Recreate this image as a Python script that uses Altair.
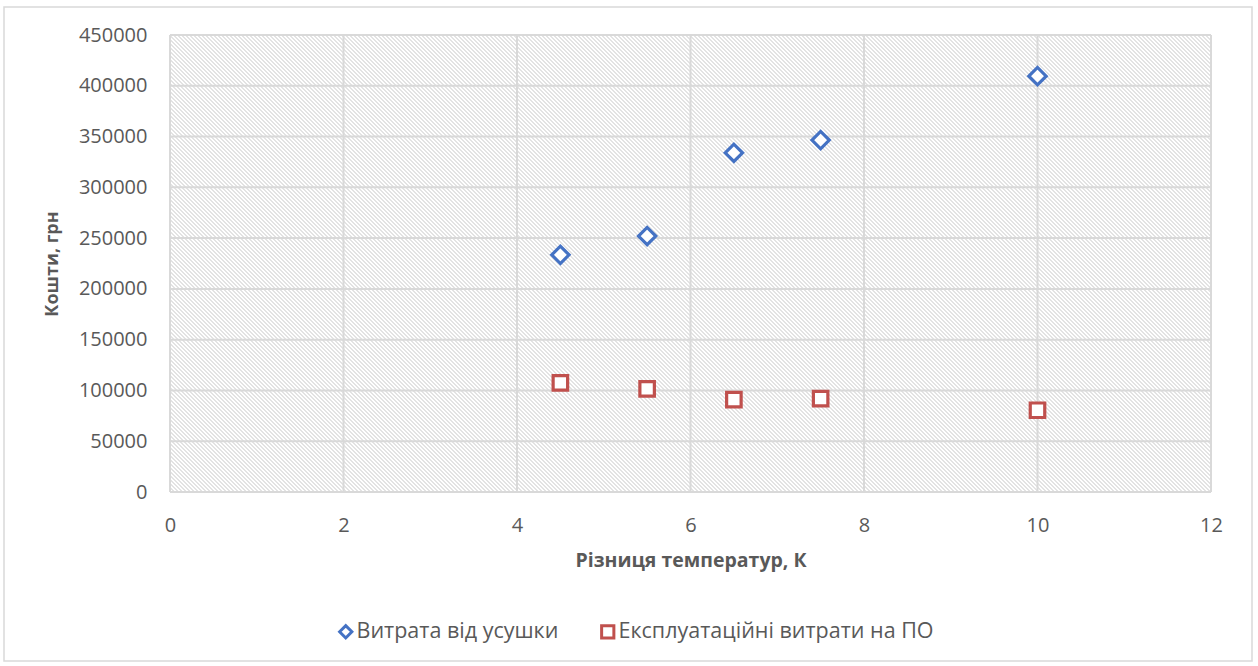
import altair as alt
import pandas as pd

# ---- data ----
x_vals = [4.5, 5.5, 6.5, 7.5, 10]
shrink_cost = [233500, 252000, 334000, 346500, 409500]   # Витрата від усушки
opex_cost = [107500, 101500, 91000, 92000, 80500]        # Експлуатаційні витрати на ПО
series_names = ["Витрата від усушки", "Експлуатаційні витрати на ПО"]
x_ticks = [0, 2, 4, 6, 8, 10, 12]
y_ticks = [0, 50000, 100000, 150000, 200000, 250000, 300000, 350000, 400000, 450000]

# ---- layout ----
W, H = 1041, 457
PAD_L, PAD_T = 170, 35
FONT = "Open Sans"
TXT = "#595959"
GRID = "#d9d9d9"

points = pd.DataFrame({
    "x": x_vals + x_vals,
    "v": shrink_cost + opex_cost,
    "s": [series_names[0]] * len(x_vals) + [series_names[1]] * len(x_vals),
})

# ---- hatch pattern (light downward diagonal) as a hard-stop linear gradient ----
total = W + H
k = total / (W ** 2 + H ** 2)
hatch_col, base_col = "#e3e3e3", "#ffffff"
period, lw = 4, 2
raw = []
n = -1
while n * period - 0.5 <= total + period:
    a = n * period - 0.5
    b = a + lw
    c = a + period
    raw += [(a, hatch_col), (b, hatch_col), (b, base_col), (c, base_col)]
    n += 1
stops = []
last = -1.0
for d, col in raw:
    t = min(max(d / total, 0.0), 1.0)
    if t < last:
        t = last
    stops.append(alt.GradientStop(offset=t, color=col))
    last = t
hatch = alt.LinearGradient(
    gradient="linear", stops=stops,
    x1=0, y1=1, x2=k * W, y2=1 - k * H,
)

xscale = alt.Scale(domain=[0, 12], nice=False, zero=False)
yscale = alt.Scale(domain=[0, 450000], nice=False)

bg_df = pd.DataFrame({"x0": [x_ticks[0]], "x1": [x_ticks[-1]], "y0": [y_ticks[0]], "y1": [y_ticks[-1]]})
bg = alt.Chart(bg_df).mark_rect(fill=hatch, strokeWidth=0).encode(
    x=alt.X("x0:Q", scale=xscale,
            axis=alt.Axis(values=x_ticks, format="d", title="Різниця температур, К", grid=False,
                          domain=False, ticks=False, labelFont=FONT, labelFontSize=20,
                          labelColor=TXT, labelPadding=23, labelFlush=False, labelBound=False,
                          titleFont=FONT, titleFontSize=19.5,
                          titleFontWeight="bold", titleColor=TXT, titleX=W / 2, titleY=68,
                          titleBaseline="middle", titleAlign="center")),
    x2="x1:Q",
    y=alt.Y("y0:Q", scale=yscale,
            axis=alt.Axis(values=y_ticks, format="d", title="Кошти, грн", grid=False,
                          domain=False, ticks=False, labelFont=FONT, labelFontSize=20,
                          labelColor=TXT, labelPadding=23, labelFlush=False, labelBound=False,
                          titleFont=FONT, titleFontSize=18,
                          titleFontWeight="bold", titleColor=TXT, titleX=-118, titleY=H / 2,
                          titleAngle=270, titleBaseline="middle", titleAlign="center")),
    y2="y1:Q",
)

vgrid = alt.Chart(pd.DataFrame({"t": x_ticks})).mark_rule(color=GRID, strokeWidth=2).encode(
    x=alt.X("t:Q", scale=xscale)
)
hgrid = alt.Chart(pd.DataFrame({"t": y_ticks})).mark_rule(color=GRID, strokeWidth=2).encode(
    y=alt.Y("t:Q", scale=yscale)
)

pts = alt.Chart(points).mark_point(filled=True, fill="white", strokeWidth=3.2, opacity=1).encode(
    x=alt.X("x:Q", scale=xscale),
    y=alt.Y("v:Q", scale=yscale),
    stroke=alt.Stroke("s:N", scale=alt.Scale(domain=series_names, range=["#4472C4", "#C0504D"]),
                      legend=alt.Legend(title=None)),
    shape=alt.Shape("s:N", scale=alt.Scale(domain=series_names, range=["diamond", "square"]),
                    legend=alt.Legend(title=None)),
    size=alt.condition(alt.datum.s == series_names[0], alt.value(300), alt.value(210)),
)

frame = alt.Chart(pd.DataFrame({"a": [0]})).mark_rect(
    fill="transparent", stroke=GRID, strokeWidth=1.5
).encode(
    x=alt.value(4 - PAD_L), x2=alt.value(1252 - PAD_L),
    y=alt.value(7 - PAD_T), y2=alt.value(661 - PAD_T),
)

chart = alt.layer(frame, bg, vgrid, hgrid, pts).properties(
    width=W, height=H,
    padding={"left": PAD_L, "top": PAD_T, "right": 1258 - PAD_L - W, "bottom": 666 - PAD_T - H},
    autosize=alt.AutoSizeParams(type="none"),
    background="white",
).configure_view(stroke=None).configure_legend(
    orient="none", legendX=165, legendY=586, direction="horizontal",
    labelFont=FONT, labelFontSize=21.5, labelColor=TXT, labelLimit=600, symbolSize=150,
    symbolStrokeWidth=3, symbolFillColor="white", columnPadding=36, labelOffset=0,
)

chart.save("out.html", embed_options={"renderer": "svg", "actions": False})
